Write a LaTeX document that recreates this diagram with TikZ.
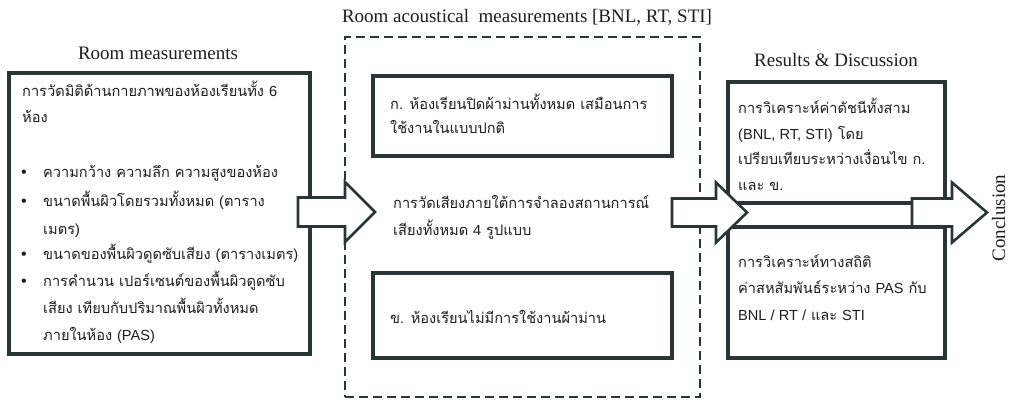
\documentclass[tikz,border=0pt]{standalone}
\usepackage{fontspec}
\setmainfont{Liberation Serif}
\newfontfamily\thai[Script=Thai]{Loma}
\newfontfamily\lat{Liberation Sans}
\definecolor{ln}{HTML}{2B3535}
\definecolor{tx}{HTML}{1E1E1E}
\begin{document}
\begin{tikzpicture}[x=1pt,y=-1pt,
  box/.style={draw=ln, line width=3.6pt, fill=white, inner sep=0pt},
  dbox/.style={draw=ln, line width=2.4pt, dash pattern=on 9pt off 5pt, inner sep=0pt},
  th/.style={anchor=base west, inner sep=0pt, text=tx, font=\thai\fontsize{14.6}{18}\selectfont},
  ttl/.style={anchor=base, inner sep=0pt, text=tx, font=\fontsize{19}{22}\selectfont},
  blk/.style={draw=ln, line width=2.6pt, fill=white, line join=miter}]
\useasboundingbox (0,0) rectangle (1010,401);
\fill[white] (0,0) rectangle (1010,401);

% titles
\node[ttl] (t1) at (158,60) {Room measurements};
\node[ttl] (t2) at (527,23) {Room acoustical\ \ measurements [BNL, RT, STI]};
\node[ttl] (t3) at (836,67) {Results \& Discussion};
\node[ttl, rotate=90] (t4) at (1005,218) {Conclusion};

% frames
\node[dbox, minimum width=355pt, minimum height=360pt] (ac) at (522.5,217) {};
\node[box, minimum width=301pt, minimum height=281pt] (rm) at (159.5,213.5) {};
\node[box, minimum width=299pt, minimum height=80pt] (ka) at (522.5,116) {};
\node[box, minimum width=299pt, minimum height=85pt] (kb) at (522.5,315.5) {};
\node[box, minimum width=217pt, minimum height=121pt] (r1) at (836.5,142.5) {};
\node[box, minimum width=217pt, minimum height=131pt] (r2) at (836.5,292.5) {};

% block arrows
\newcommand{\blockarr}[5]{%
  \draw[blk] (#1,#4-#5) -- (#2,#4-#5) -- (#2,#4-30) -- (#3,#4) -- (#2,#4+30) -- (#2,#4+#5) -- (#1,#4+#5) -- cycle;}
\blockarr{298}{345}{375}{212}{14.5}
\blockarr{672}{716}{747}{212.5}{14}
\blockarr{912}{952}{987}{212.5}{14}

% left box text
\node[th] (l1) at (22,97) {การวัดมิติด้านกายภาพของห้องเรียนทั้ง {\lat 6}};
\node[th] (l2) at (22,123) {ห้อง};
\node[th] (l3) at (43,178) {ความกว้าง ความลึก ความสูงของห้อง};
\node[th] (l4) at (43,207) {ขนาดพื้นผิวโดยรวมทั้งหมด {\lat (}ตาราง};
\node[th] (l5) at (43,234) {เมตร{\lat )}};
\node[th] (l6) at (43,259) {ขนาดของพื้นผิวดูดซับเสียง {\lat (}ตารางเมตร{\lat )}};
\node[th] (l7) at (43,286) {การคำนวน เปอร์เซนต์ของพื้นผิวดูดซับ};
\node[th] (l8) at (43,313) {เสียง เทียบกับปริมาณพื้นผิวทั้งหมด};
\node[th] (l9) at (43,340) {ภายในห้อง {\lat (PAS)}};
\foreach \y/\n in {178/b1,207/b2,259/b3,286/b4}
  \node[th, font=\lat\fontsize{16}{18}\selectfont] (\n) at (21,\y) {•};

% middle text
\node[th] (m1) at (390,110) {ก. ห้องเรียนปิดผ้าม่านทั้งหมด เสมือนการ};
\node[th] (m2) at (390,134) {ใช้งานในแบบปกติ};
\node[th] (m3) at (393,208) {การวัดเสียงภายใต้การจำลองสถานการณ์};
\node[th] (m4) at (393,235) {เสียงทั้งหมด {\lat 4} รูปแบบ};
\node[th] (m5) at (390,323) {ข. ห้องเรียนไม่มีการใช้งานผ้าม่าน};

% results text
\node[th] (r1a) at (738,114) {การวิเคราะห์ค่าดัชนีทั้งสาม};
\node[th] (r1b) at (738,140) {{\lat (BNL, RT, STI)} โดย};
\node[th] (r1c) at (738,165) {เปรียบเทียบระหว่างเงื่อนไข ก.};
\node[th] (r1d) at (738,190) {และ ข.};
\node[th] (r2a) at (738,267) {การวิเคราะห์ทางสถิติ};
\node[th] (r2b) at (738,293) {ค่าสหสัมพันธ์ระหว่าง {\lat PAS} กับ};
\node[th] (r2c) at (738,320) {{\lat BNL / RT /} และ {\lat STI}};
\end{tikzpicture}
\end{document}
